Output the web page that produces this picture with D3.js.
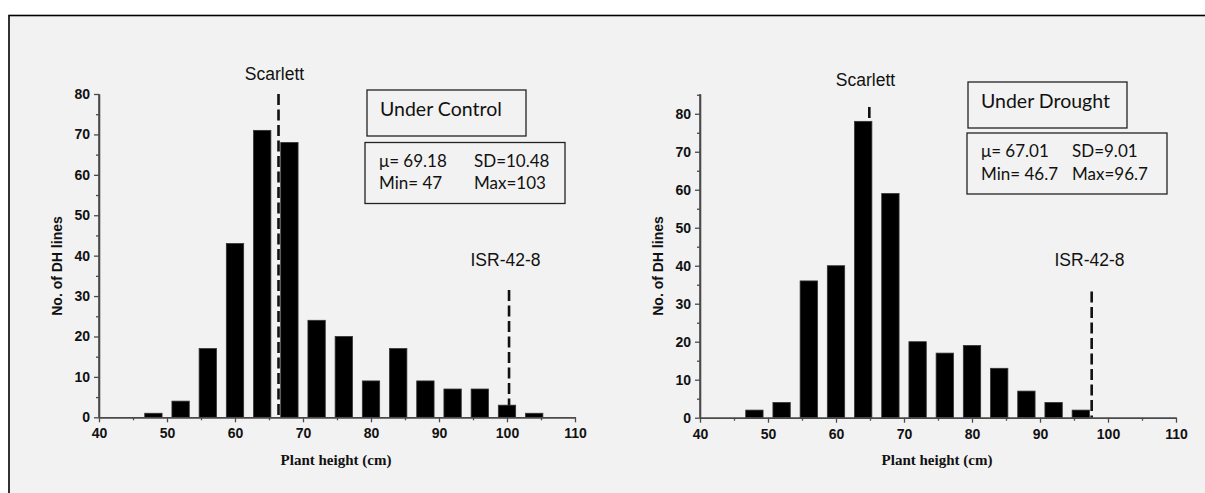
<!DOCTYPE html>
<html>
<head>
<meta charset="utf-8">
<script src="https://cdn.jsdelivr.net/npm/d3@7"></script>
<style>
  html, body { margin: 0; padding: 0; background: #ffffff; }
  svg { display: block; }
</style>
</head>
<body>
<svg id="chart" width="1205" height="493"></svg>
<script>
// ---------- data ----------
const binCenters = [48, 52, 56, 60, 64, 68, 72, 76, 80, 84, 88, 92, 96, 100, 104];
const controlCounts = [1, 4, 17, 43, 71, 68, 24, 20, 9, 17, 9, 7, 7, 3, 1];
const droughtCounts = [2, 4, 36, 40, 78, 59, 20, 17, 19, 13, 7, 4, 2];
const xTicks = [40, 50, 60, 70, 80, 90, 100, 110];
const xMinorTicks = [45, 55, 65, 75, 85, 95, 105];
const controlYTicks = [0, 10, 20, 30, 40, 50, 60, 70, 80];
const controlYMinor = [5, 15, 25, 35, 45, 55, 65, 75];
const droughtYTicks = [0, 10, 20, 30, 40, 50, 60, 70, 80];
const droughtYMinor = [5, 15, 25, 35, 45, 55, 65, 75, 85];
const controlMarkers = [
  { name: "Scarlett", x: 66.4, top: 80 },
  { name: "ISR-42-8", x: 100.3, top: 31.5 }
];
const droughtMarkers = [
  { name: "Scarlett", x: 64.9, top: 81.8 },
  { name: "ISR-42-8", x: 97.6, top: 33.2 }
];
const controlTitle = "Under Control";
const droughtTitle = "Under Drought";
const controlStats = [["μ= 69.18", "SD=10.48"], ["Min= 47", "Max=103"]];
const droughtStats = [["μ= 67.01", "SD=9.01"], ["Min= 46.7", "Max=96.7"]];
const xLabel = "Plant height (cm)";
const yLabel = "No. of DH lines";
const binWidth = 2.55;

// ---------- drawing ----------
const svg = d3.select("#chart");
svg.append("rect").attr("x", 9).attr("y", 15.5).attr("width", 1205).attr("height", 490)
  .attr("fill", "#f2f2f2").attr("stroke", "#000").attr("stroke-width", 1.6);

const axisColor = "#4a4a4a";
const tickFont = "'Liberation Sans', Arial, sans-serif";

function drawPanel(p) {
  const g = svg.append("g");
  const x = d3.scaleLinear().domain([40, 110]).range([p.left, p.right]);
  const y = d3.scaleLinear().domain([0, p.yMax]).range([p.bottom, p.top]);

  // marker dashed lines (behind bars)
  p.markers.forEach(m => {
    g.append("line")
      .attr("x1", x(m.x)).attr("x2", x(m.x))
      .attr("y1", y(m.top)).attr("y2", y(0))
      .attr("stroke", "#111").attr("stroke-width", 2.6)
      .attr("stroke-dasharray", "11,4.5");
  });

  // bars
  g.selectAll("rect.bar").data(p.counts).join("rect")
    .attr("class", "bar")
    .attr("x", (d, i) => x(binCenters[i] - binWidth / 2))
    .attr("width", (d, i) => x(binCenters[i] + binWidth / 2) - x(binCenters[i] - binWidth / 2))
    .attr("y", d => y(d))
    .attr("height", d => y(0) - y(d))
    .attr("fill", "#000").attr("stroke", "#333").attr("stroke-width", 0.8);

  // axes
  const xAxis = g.append("g").attr("transform", `translate(0,${p.bottom})`)
    .call(d3.axisBottom(x).tickValues(xTicks).tickSize(5).tickPadding(6).tickSizeOuter(0));
  const xMinor = g.append("g").attr("transform", `translate(0,${p.bottom})`)
    .call(d3.axisBottom(x).tickValues(xMinorTicks).tickSize(3).tickFormat("").tickSizeOuter(0));
  const yAxis = g.append("g").attr("transform", `translate(${p.left},0)`)
    .call(d3.axisLeft(y).tickValues(p.yTicks).tickSize(5).tickPadding(4).tickSizeOuter(0));
  const yMinor = g.append("g").attr("transform", `translate(${p.left},0)`)
    .call(d3.axisLeft(y).tickValues(p.yMinor).tickSize(3).tickFormat("").tickSizeOuter(0));
  [xAxis, xMinor, yAxis, yMinor].forEach(a => {
    a.selectAll("path.domain").attr("stroke", axisColor).attr("stroke-width", 1.6);
    a.selectAll(".tick line").attr("stroke", axisColor).attr("stroke-width", 1.3);
    a.selectAll(".tick text").attr("fill", "#111").attr("font-family", tickFont)
      .attr("font-weight", "bold").attr("font-size", 14);
  });
  // the y axis line reaches the top of the domain
  yAxis.select("path.domain").attr("d", `M0,${y(0)}V${y(p.yMax)}`);

  // axis titles
  g.append("text").attr("x", (p.left + p.right) / 2 - 1).attr("y", 465)
    .attr("text-anchor", "middle").attr("font-family", "'Liberation Serif', 'Times New Roman', serif")
    .attr("font-weight", "bold").attr("font-size", 15).attr("fill", "#111").text(xLabel);
  g.append("text").attr("transform", `translate(${p.left - 37},${266}) rotate(-90)`)
    .attr("text-anchor", "middle").attr("font-family", tickFont)
    .attr("font-weight", "bold").attr("font-size", 14).attr("fill", "#111").text(yLabel);

  // marker labels
  p.markers.forEach((m, i) => {
    g.append("text").attr("x", p.labelPos[i][0]).attr("y", p.labelPos[i][1])
      .attr("text-anchor", "middle").attr("font-family", tickFont)
      .attr("font-size", 17.5).attr("fill", "#111").text(m.name);
  });

  // title box
  const tb = p.titleBox;
  g.append("rect").attr("x", tb[0]).attr("y", tb[1]).attr("width", tb[2]).attr("height", tb[3])
    .attr("fill", "none").attr("stroke", "#222").attr("stroke-width", 1.3);
  g.append("text").attr("x", tb[0] + 13).attr("y", tb[1] + 26)
    .attr("font-family", "Lato, 'Open Sans', sans-serif").attr("font-size", 19.5)
    .attr("fill", "#111").text(p.title);

  // stats box
  const sb = p.statsBox;
  g.append("rect").attr("x", sb[0]).attr("y", sb[1]).attr("width", sb[2]).attr("height", sb[3])
    .attr("fill", "none").attr("stroke", "#222").attr("stroke-width", 1.3);
  p.stats.forEach((row, r) => {
    row.forEach((txt, c) => {
      g.append("text").attr("x", sb[0] + p.statsCols[c]).attr("y", sb[1] + 24 + r * 22.5)
        .attr("font-family", "Lato, 'Open Sans', sans-serif").attr("font-size", 17)
        .attr("fill", "#111").text(txt);
    });
  });
}

drawPanel({
  left: 99, right: 575, top: 94, bottom: 417.3, yMax: 80,
  counts: controlCounts, yTicks: controlYTicks, yMinor: controlYMinor,
  markers: controlMarkers, labelPos: [[274.5, 80], [505.5, 266]],
  title: controlTitle, titleBox: [367, 90, 159, 46],
  stats: controlStats, statsBox: [365, 142.5, 200, 61], statsCols: [14, 109]
});
drawPanel({
  left: 700, right: 1176, top: 94, bottom: 417.7, yMax: 85.2,
  counts: droughtCounts, yTicks: droughtYTicks, yMinor: droughtYMinor,
  markers: droughtMarkers, labelPos: [[865.5, 86], [1089.5, 266]],
  title: droughtTitle, titleBox: [968, 82, 159, 46],
  stats: droughtStats, statsBox: [967, 133, 200, 61], statsCols: [14, 105]
});
</script>
</body>
</html>
